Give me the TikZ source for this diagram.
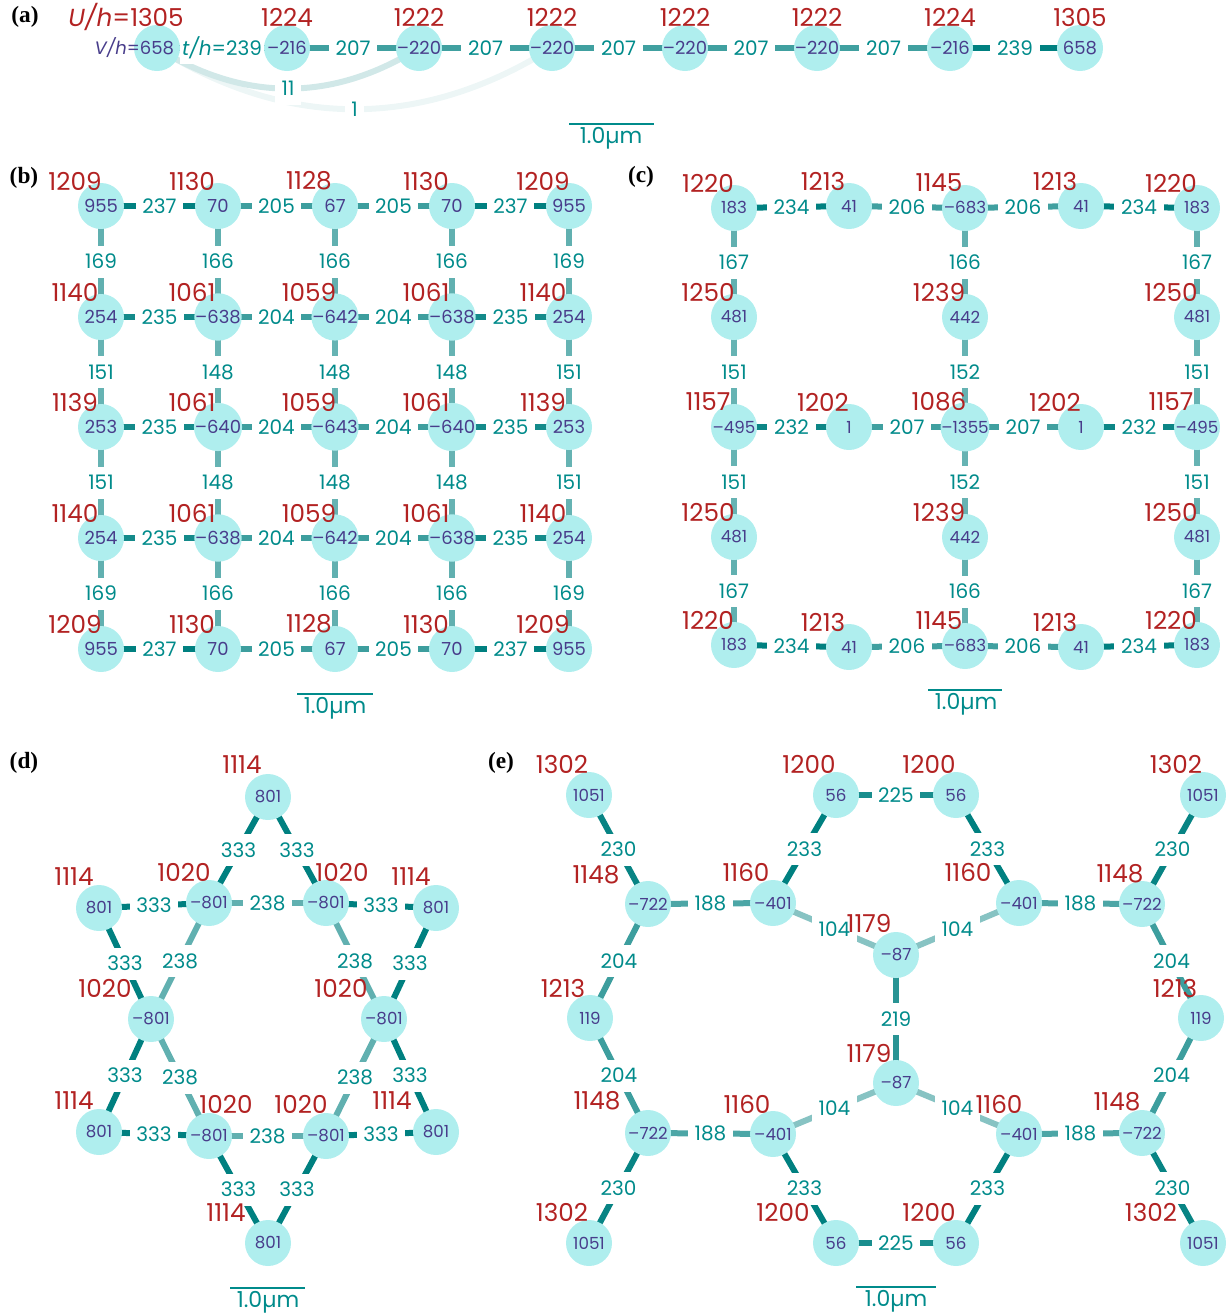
\documentclass[tikz,border=0pt]{standalone}
\usepackage{fontspec}
\setmainfont{Poppins}
\newfontfamily\serifb{Liberation Serif}
\definecolor{nodefill}{HTML}{AFEEEE}
\definecolor{vcol}{HTML}{483D8B}
\definecolor{ucol}{HTML}{B22222}
\definecolor{tcol}{HTML}{008B8B}
\definecolor{bondc}{HTML}{008080}
\pgfdeclarelayer{bg}
\pgfsetlayers{bg,main}
\tikzset{
  site/.style={circle,fill=nodefill,minimum size=34.5pt,inner sep=0pt,text=vcol,font=\fontsize{13.5}{13.5}\selectfont},
  sitesm/.style={site,font=\fontsize{12.5}{12.5}\selectfont},
  hop/.style={fill=white,text=tcol,font=\fontsize{15}{15}\selectfont,inner xsep=5pt,inner ysep=0pt,minimum height=24pt},
  ulab/.style={text=ucol,font=\fontsize{18.5}{18.5}\selectfont,inner sep=0pt},
  bond/.style={line width=4.5pt},
  plabel/.style={font=\serifb\bfseries\fontsize{17.5}{17.5}\selectfont,inner sep=0pt},
  sbar/.style={draw=tcol,line width=0.9pt},
  stext/.style={text=tcol,font=\fontsize{16.5}{16.5}\selectfont,inner sep=0pt,anchor=north}
}
% site with absolute U label
\newcommand\mkA[8][site]{\node[#1] (#2) at (#3,#4) {#5}; \node[ulab] (#2u) at (#6,#7) {#8};}
% grid site, U label offset
\newcommand\mkG[6][site]{\node[#1] (#2) at (#3,#4) {#5}; \node[ulab] (#2u) at ([shift={(-26,-25)}]#2.center) {#6};}
% bond
\newcommand\mkB[4]{\draw[bond,bondc!#1!white] (#2.center) -- node[hop]{#4} (#3.center);}
\begin{document}
\begin{tikzpicture}[x=0.75pt,y=-0.75pt]
\useasboundingbox (0,0) rectangle (1230,1314);

% ---------------- panel labels
\node[plabel] (pa) at (25,17) {(a)};
\node[plabel] (pb) at (24,178) {(b)};
\node[plabel] (pc) at (641,177) {(c)};
\node[plabel] (pd) at (24,763) {(d)};
\node[plabel] (pe) at (501,763) {(e)};

% ---------------- (a)
\mkA{a1}{157}{48}{\llap{\textit{V/h}=}658}{157}{17}{\llap{\textit{U/h}=}1305}
\mkA{a2}{287}{48}{–216}{287}{17}{1224}
\mkA{a3}{419}{48}{–220}{419}{17}{1222}
\mkA{a4}{552}{48}{–220}{552}{17}{1222}
\mkA{a5}{685}{48}{–220}{685}{17}{1222}
\mkA{a6}{817}{48}{–220}{817}{17}{1222}
\mkA{a7}{950}{48}{–216}{950}{17}{1224}
\mkA{a8}{1080}{48}{658}{1080}{17}{1305}
\begin{pgfonlayer}{bg}
\draw[bond,bondc!7!white] (a1.center) to[bend right=32] node[hop]{1} (a4.center);
\draw[bond,bondc!18!white] (a1.center) to[bend right=32] node[hop]{11} (a3.center);
\draw[bond,bondc] (a1.center) -- node[hop,inner xsep=1.5pt]{\textit{t/h}=239} (a2.center);
\mkB{75}{a2}{a3}{207}
\mkB{75}{a3}{a4}{207}
\mkB{75}{a4}{a5}{207}
\mkB{75}{a5}{a6}{207}
\mkB{75}{a6}{a7}{207}
\mkB{100}{a7}{a8}{239}
\end{pgfonlayer}
\coordinate (sa1) at (569,124); \coordinate (sa2) at (654,124);
\draw[sbar] (sa1) -- (sa2);
\node[stext] (sat) at (611,127) {1.0µm};

% ---------------- (b)
\mkG{b11}{101}{206}{955}{1209}
\mkG{b12}{218}{206}{70}{1130}
\mkG{b13}{335}{206}{67}{1128}
\mkG{b14}{452}{206}{70}{1130}
\mkG{b15}{569}{206}{955}{1209}
\mkG{b21}{101}{317}{254}{1140}
\mkG{b22}{218}{317}{–638}{1061}
\mkG{b23}{335}{317}{–642}{1059}
\mkG{b24}{452}{317}{–638}{1061}
\mkG{b25}{569}{317}{254}{1140}
\mkG{b31}{101}{427}{253}{1139}
\mkG{b32}{218}{427}{–640}{1061}
\mkG{b33}{335}{427}{–643}{1059}
\mkG{b34}{452}{427}{–640}{1061}
\mkG{b35}{569}{427}{253}{1139}
\mkG{b41}{101}{538}{254}{1140}
\mkG{b42}{218}{538}{–638}{1061}
\mkG{b43}{335}{538}{–642}{1059}
\mkG{b44}{452}{538}{–638}{1061}
\mkG{b45}{569}{538}{254}{1140}
\mkG{b51}{101}{649}{955}{1209}
\mkG{b52}{218}{649}{70}{1130}
\mkG{b53}{335}{649}{67}{1128}
\mkG{b54}{452}{649}{70}{1130}
\mkG{b55}{569}{649}{955}{1209}
\begin{pgfonlayer}{bg}
\mkB{100}{b11}{b12}{237}\mkB{76}{b12}{b13}{205}\mkB{76}{b13}{b14}{205}\mkB{100}{b14}{b15}{237}
\mkB{92}{b21}{b22}{235}\mkB{76}{b22}{b23}{204}\mkB{76}{b23}{b24}{204}\mkB{92}{b24}{b25}{235}
\mkB{92}{b31}{b32}{235}\mkB{76}{b32}{b33}{204}\mkB{76}{b33}{b34}{204}\mkB{92}{b34}{b35}{235}
\mkB{92}{b41}{b42}{235}\mkB{76}{b42}{b43}{204}\mkB{76}{b43}{b44}{204}\mkB{92}{b44}{b45}{235}
\mkB{100}{b51}{b52}{237}\mkB{76}{b52}{b53}{205}\mkB{76}{b53}{b54}{205}\mkB{100}{b54}{b55}{237}
\mkB{62}{b11}{b21}{169}\mkB{62}{b12}{b22}{166}\mkB{62}{b13}{b23}{166}\mkB{62}{b14}{b24}{166}\mkB{62}{b15}{b25}{169}
\mkB{60}{b21}{b31}{151}\mkB{60}{b22}{b32}{148}\mkB{60}{b23}{b33}{148}\mkB{60}{b24}{b34}{148}\mkB{60}{b25}{b35}{151}
\mkB{60}{b31}{b41}{151}\mkB{60}{b32}{b42}{148}\mkB{60}{b33}{b43}{148}\mkB{60}{b34}{b44}{148}\mkB{60}{b35}{b45}{151}
\mkB{62}{b41}{b51}{169}\mkB{62}{b42}{b52}{166}\mkB{62}{b43}{b53}{166}\mkB{62}{b44}{b54}{166}\mkB{62}{b45}{b55}{169}
\end{pgfonlayer}
\coordinate (sb1) at (297,694); \coordinate (sb2) at (373,694);
\draw[sbar] (sb1) -- (sb2);
\node[stext] (sbt) at (335,697) {1.0µm};

% ---------------- (c)
\mkG[sitesm]{c11}{734}{208}{183}{1220}
\mkG[sitesm]{c12}{849}{206}{41}{1213}
\mkG[sitesm]{c13}{965}{208}{–683}{1145}
\mkG[sitesm]{c14}{1081}{206}{41}{1213}
\mkG[sitesm]{c15}{1197}{208}{183}{1220}
\mkG[sitesm]{c21}{734}{317}{481}{1250}
\mkG[sitesm]{c23}{965}{317}{442}{1239}
\mkG[sitesm]{c25}{1197}{317}{481}{1250}
\mkG[sitesm]{c31}{734}{427}{–495}{1157}
\mkG[sitesm]{c32}{849}{427}{1}{1202}
\mkG[sitesm]{c33}{965}{427}{–1355}{1086}
\mkG[sitesm]{c34}{1081}{427}{1}{1202}
\mkG[sitesm]{c35}{1197}{427}{–495}{1157}
\mkG[sitesm]{c41}{734}{537}{481}{1250}
\mkG[sitesm]{c43}{965}{537}{442}{1239}
\mkG[sitesm]{c45}{1197}{537}{481}{1250}
\mkG[sitesm]{c51}{734}{645}{183}{1220}
\mkG[sitesm]{c52}{849}{647}{41}{1213}
\mkG[sitesm]{c53}{965}{646}{–683}{1145}
\mkG[sitesm]{c54}{1081}{647}{41}{1213}
\mkG[sitesm]{c55}{1197}{645}{183}{1220}
\begin{pgfonlayer}{bg}
\mkB{100}{c11}{c12}{234}\mkB{75}{c12}{c13}{206}\mkB{75}{c13}{c14}{206}\mkB{100}{c14}{c15}{234}
\mkB{95}{c31}{c32}{232}\mkB{75}{c32}{c33}{207}\mkB{75}{c33}{c34}{207}\mkB{95}{c34}{c35}{232}
\mkB{100}{c51}{c52}{234}\mkB{75}{c52}{c53}{206}\mkB{75}{c53}{c54}{206}\mkB{100}{c54}{c55}{234}
\mkB{62}{c11}{c21}{167}\mkB{62}{c13}{c23}{166}\mkB{62}{c15}{c25}{167}
\mkB{60}{c21}{c31}{151}\mkB{60}{c23}{c33}{152}\mkB{60}{c25}{c35}{151}
\mkB{60}{c31}{c41}{151}\mkB{60}{c33}{c43}{152}\mkB{60}{c35}{c45}{151}
\mkB{62}{c41}{c51}{167}\mkB{62}{c43}{c53}{166}\mkB{62}{c45}{c55}{167}
\end{pgfonlayer}
\coordinate (sc1) at (928,690); \coordinate (sc2) at (1002,690);
\draw[sbar] (sc1) -- (sc2);
\node[stext] (sct) at (966,693) {1.0µm};

% ---------------- (d)
\mkA[sitesm]{dT}{268}{797}{801}{242}{765}{1114}
\mkA[sitesm]{dL1}{99}{908}{801}{74}{877}{1114}
\mkA[sitesm]{dI1}{209}{903}{–801}{184}{872}{1020}
\mkA[sitesm]{dI2}{326}{903}{–801}{342}{872}{1020}
\mkA[sitesm]{dR1}{436}{908}{801}{411}{877}{1114}
\mkA[sitesm]{dI3}{151}{1019}{–801}{105}{988}{1020}
\mkA[sitesm]{dI4}{384}{1019}{–801}{341}{988}{1020}
\mkA[sitesm]{dL2}{99}{1132}{801}{74}{1101}{1114}
\mkA[sitesm]{dI5}{209}{1136}{–801}{226}{1104}{1020}
\mkA[sitesm]{dI6}{326}{1136}{–801}{301}{1104}{1020}
\mkA[sitesm]{dR2}{436}{1132}{801}{392}{1101}{1114}
\mkA[sitesm]{dB}{268}{1243}{801}{226}{1213}{1114}
\begin{pgfonlayer}{bg}
\mkB{100}{dT}{dI1}{333}\mkB{100}{dT}{dI2}{333}
\mkB{100}{dL1}{dI1}{333}\mkB{100}{dI2}{dR1}{333}
\mkB{62}{dI1}{dI2}{238}
\mkB{100}{dL1}{dI3}{333}\mkB{62}{dI1}{dI3}{238}
\mkB{62}{dI2}{dI4}{238}\mkB{100}{dR1}{dI4}{333}
\mkB{100}{dI3}{dL2}{333}\mkB{62}{dI3}{dI5}{238}
\mkB{62}{dI4}{dI6}{238}\mkB{100}{dI4}{dR2}{333}
\mkB{100}{dL2}{dI5}{333}\mkB{62}{dI5}{dI6}{238}\mkB{100}{dI6}{dR2}{333}
\mkB{100}{dI5}{dB}{333}\mkB{100}{dI6}{dB}{333}
\end{pgfonlayer}
\coordinate (sd1) at (230,1288); \coordinate (sd2) at (305,1288);
\draw[sbar] (sd1) -- (sd2);
\node[stext] (sdt) at (268,1291) {1.0µm};

% ---------------- (e)
\mkA[sitesm]{eTL}{589}{795}{1051}{562}{764}{1302}
\mkA[sitesm]{eTR}{1203}{795}{1051}{1176}{764}{1302}
\mkA[sitesm]{eBL}{589}{1243}{1051}{562}{1212}{1302}
\mkA[sitesm]{eBR}{1203}{1243}{1051}{1151}{1212}{1302}
\mkA[sitesm]{eA1}{648}{904}{–722}{596}{875}{1148}
\mkA[sitesm]{eA2}{1142}{904}{–722}{1120}{874}{1148}
\mkA[sitesm]{eA3}{648}{1133}{–722}{597}{1101}{1148}
\mkA[sitesm]{eA4}{1142}{1133}{–722}{1117}{1102}{1148}
\mkA[sitesm]{eH1}{590}{1018}{119}{563}{988}{1213}
\mkA[sitesm]{eH2}{1201}{1018}{119}{1175}{988}{1213}
\mkA[sitesm]{eD1}{773}{903}{–401}{746}{872}{1160}
\mkA[sitesm]{eD2}{1019}{903}{–401}{968}{872}{1160}
\mkA[sitesm]{eD3}{773}{1134}{–401}{747}{1104}{1160}
\mkA[sitesm]{eD4}{1019}{1134}{–401}{999}{1104}{1160}
\mkA[sitesm]{eF1}{836}{795}{56}{809}{764}{1200}
\mkA[sitesm]{eF2}{956}{795}{56}{929}{764}{1200}
\mkA[sitesm]{eF3}{836}{1243}{56}{783}{1212}{1200}
\mkA[sitesm]{eF4}{956}{1243}{56}{929}{1212}{1200}
\mkA[sitesm]{eM1}{896}{955}{–87}{869}{923}{1179}
\mkA[sitesm]{eM2}{896}{1083}{–87}{869}{1053}{1179}
\begin{pgfonlayer}{bg}
\mkB{97}{eTL}{eA1}{230}\mkB{76}{eA1}{eH1}{204}\mkB{76}{eH1}{eA3}{204}\mkB{97}{eA3}{eBL}{230}
\mkB{70}{eA1}{eD1}{188}\mkB{70}{eA3}{eD3}{188}
\mkB{100}{eD1}{eF1}{233}\mkB{90}{eF1}{eF2}{225}\mkB{100}{eF2}{eD2}{233}
\mkB{70}{eD2}{eA2}{188}\mkB{97}{eA2}{eTR}{230}\mkB{76}{eA2}{eH2}{204}\mkB{76}{eH2}{eA4}{204}\mkB{97}{eA4}{eBR}{230}
\mkB{70}{eA4}{eD4}{188}\mkB{100}{eD4}{eF4}{233}\mkB{90}{eF4}{eF3}{225}\mkB{100}{eF3}{eD3}{233}
\mkB{47}{eD1}{eM1}{104}\mkB{47}{eD2}{eM1}{104}\mkB{84}{eM1}{eM2}{219}
\mkB{47}{eM2}{eD3}{104}\mkB{47}{eM2}{eD4}{104}
\end{pgfonlayer}
\coordinate (se1) at (856,1287); \coordinate (se2) at (936,1287);
\draw[sbar] (se1) -- (se2);
\node[stext] (set) at (896,1290) {1.0µm};
\end{tikzpicture}
\end{document}
